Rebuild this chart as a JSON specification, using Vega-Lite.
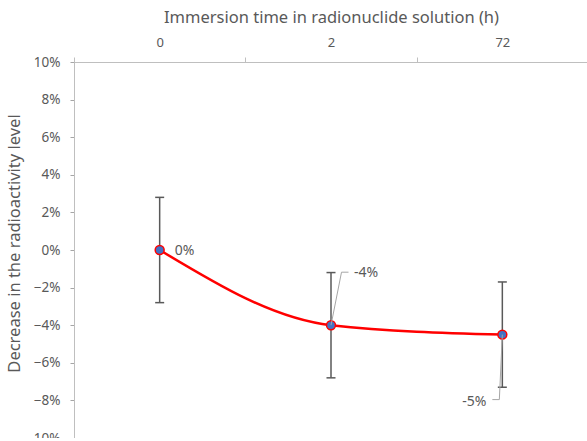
{
  "$schema": "https://vega.github.io/schema/vega-lite/v6.json",
  "autosize": "none",
  "width": 514,
  "height": 376,
  "padding": {"left": 74, "top": 62, "right": 0, "bottom": 0},
  "background": "white",
  "config": {
    "view": {"stroke": "#D9D9D9", "strokeWidth": 1},
    "font": "Noto Sans",
    "axis": {
      "labelFont": "Noto Sans",
      "titleFont": "Noto Sans",
      "labelColor": "#595959",
      "titleColor": "#595959",
      "labelFontSize": 13,
      "titleFontSize": 16.5,
      "titleFontWeight": "normal",
      "domainColor": "#BFBFBF",
      "tickColor": "#BFBFBF",
      "grid": false
    },
    "axisY": {"labelOverlap": false, "labelSeparation": 0}
  },
  "data": {
    "values": [
      {"time": "0", "value": 0, "lo": -0.028, "hi": 0.028, "label": "0%"},
      {"time": "2", "value": -0.04, "lo": -0.068, "hi": -0.012, "label": "-4%"},
      {"time": "72", "value": -0.045, "lo": -0.073, "hi": -0.017, "label": "-5%"}
    ]
  },
  "encoding": {
    "x": {
      "field": "time",
      "type": "ordinal",
      "sort": ["0", "2", "72"],
      "scale": {"paddingInner": 0, "paddingOuter": 0},
      "axis": {
        "orient": "top",
        "title": "Immersion time in radionuclide solution (h)",
        "labelAngle": 0,
        "tickBand": "extent",
        "tickSize": 5,
        "labelPadding": 8,
        "titleX": 257,
        "titleY": -45,
        "titleAnchor": null,
        "titleAlign": "center",
        "titleBaseline": "middle"
      }
    }
  },
  "layer": [
    {
      "mark": {"type": "rule", "color": "#595959", "strokeWidth": 1.5},
      "encoding": {
        "y": {
          "field": "lo",
          "type": "quantitative",
          "scale": {"domain": [-0.1, 0.1], "nice": false, "zero": false},
          "axis": {
            "title": "Decrease in the radioactivity level",
            "format": ".0%",
            "tickCount": 10,
            "tickSize": 4,
            "tickColor": "#A6A6A6",
            "labelPadding": 10,
            "labelFontSize": 13.5,
            "labelOverlap": false,
            "titleX": -60,
            "titleY": 181,
            "titleAngle": -90,
            "titleAlign": "center",
            "titleBaseline": "middle",
            "titleAnchor": null
          }
        },
        "y2": {"field": "hi"}
      }
    },
    {
      "mark": {"type": "tick", "color": "#595959", "thickness": 1.5, "size": 9, "opacity": 1},
      "encoding": {
        "y": {"field": "lo", "type": "quantitative"}
      }
    },
    {
      "mark": {"type": "tick", "color": "#595959", "thickness": 1.5, "size": 9, "opacity": 1},
      "encoding": {
        "y": {"field": "hi", "type": "quantitative"}
      }
    },
    {
      "mark": {"type": "line", "interpolate": "monotone", "color": "#FF0000", "strokeWidth": 2.5},
      "encoding": {
        "y": {"field": "value", "type": "quantitative"}
      }
    },
    {
      "mark": {"type": "point", "filled": true, "fill": "#4472C4", "stroke": "#FF0000", "strokeWidth": 1.5, "size": 80, "opacity": 1},
      "encoding": {
        "y": {"field": "value", "type": "quantitative"}
      }
    },
    {
      "transform": [{"filter": "datum.time == '2'"}],
      "mark": {"type": "rule", "color": "#A6A6A6", "strokeWidth": 1, "x2Offset": 10.5, "y2Offset": -53},
      "encoding": {
        "y": {"field": "value", "type": "quantitative"},
        "x2": {"field": "time"},
        "y2": {"field": "value"}
      }
    },
    {
      "transform": [{"filter": "datum.time == '2'"}],
      "mark": {"type": "rule", "color": "#A6A6A6", "strokeWidth": 1, "xOffset": 10.5, "x2Offset": 17.5, "yOffset": -53, "y2Offset": -53},
      "encoding": {
        "y": {"field": "value", "type": "quantitative"},
        "x2": {"field": "time"},
        "y2": {"field": "value"}
      }
    },
    {
      "transform": [{"filter": "datum.time == '72'"}],
      "mark": {"type": "rule", "color": "#A6A6A6", "strokeWidth": 1, "x2Offset": -3, "y2Offset": 65},
      "encoding": {
        "y": {"field": "value", "type": "quantitative"},
        "x2": {"field": "time"},
        "y2": {"field": "value"}
      }
    },
    {
      "transform": [{"filter": "datum.time == '72'"}],
      "mark": {"type": "rule", "color": "#A6A6A6", "strokeWidth": 1, "xOffset": -3, "x2Offset": -10, "yOffset": 65, "y2Offset": 65},
      "encoding": {
        "y": {"field": "value", "type": "quantitative"},
        "x2": {"field": "time"},
        "y2": {"field": "value"}
      }
    },
    {
      "transform": [{"filter": "datum.time == '0'"}],
      "mark": {"type": "text", "align": "left", "baseline": "middle", "dx": 15, "dy": 1, "fontSize": 14, "color": "#595959"},
      "encoding": {
        "y": {"field": "value", "type": "quantitative"},
        "text": {"field": "label"}
      }
    },
    {
      "transform": [{"filter": "datum.time == '2'"}],
      "mark": {"type": "text", "align": "left", "baseline": "middle", "dx": 23, "dy": -52, "fontSize": 14, "color": "#595959"},
      "encoding": {
        "y": {"field": "value", "type": "quantitative"},
        "text": {"field": "label"}
      }
    },
    {
      "transform": [{"filter": "datum.time == '72'"}],
      "mark": {"type": "text", "align": "right", "baseline": "middle", "dx": -16, "dy": 67, "fontSize": 14, "color": "#595959"},
      "encoding": {
        "y": {"field": "value", "type": "quantitative"},
        "text": {"field": "label"}
      }
    }
  ]
}
